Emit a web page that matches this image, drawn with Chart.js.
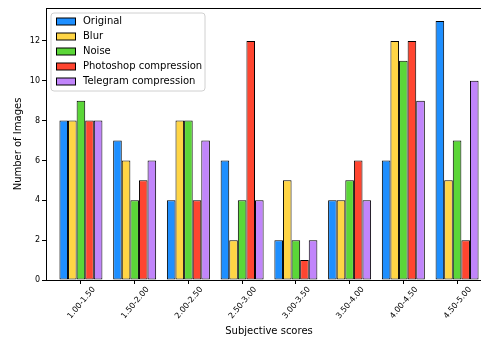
<!DOCTYPE html>
<html>
<head>
<meta charset="utf-8">
<script src="https://cdn.jsdelivr.net/npm/chart.js@4/dist/chart.umd.min.js"></script>
<style>
  html, body { margin: 0; padding: 0; background: #fff; overflow: hidden; }
  #wrap { width: 500px; height: 338px; }
</style>
</head>
<body>
<div id="wrap"><canvas id="c" width="500" height="338"></canvas></div>
<script>
// Score bins on the x axis
const scoreBins = ['1.00-1.50', '1.50-2.00', '2.00-2.50', '2.50-3.00', '3.00-3.50', '3.50-4.00', '4.00-4.50', '4.50-5.00'];

// Number of images per bin for each version
const original  = [8, 7, 4, 6, 2, 4, 6, 13];
const blur      = [8, 6, 8, 2, 5, 4, 12, 5];
const noise     = [9, 4, 8, 4, 2, 5, 11, 7];
const photoshop = [8, 5, 4, 12, 1, 6, 12, 2];
const telegram  = [8, 6, 7, 4, 2, 4, 9, 10];

const yTicks = [0, 2, 4, 6, 8, 10, 12];

const seriesNames  = ['Original', 'Blur', 'Noise', 'Photoshop compression', 'Telegram compression'];
const seriesValues = [original, blur, noise, photoshop, telegram];
const seriesColors = ['#1e8fff', '#ffd545', '#5bd638', '#ff4530', '#c185fb'];

const FONT = 'DejaVu Sans';

const datasets = seriesNames.map((name, i) => ({
  label: name,
  data: seriesValues[i].map((v, j) => ({ x: j, y: v })),
  backgroundColor: seriesColors[i],
  borderColor: '#000',
  borderWidth: 1,
  borderSkipped: false,
  categoryPercentage: 0.8,
  barPercentage: 1.0
}));

// Frame around the plotting area and a boxed legend in its upper-left corner
const framePlugin = {
  id: 'frame',
  afterDatasetsDraw(chart) {
    const { ctx, chartArea: a } = chart;
    ctx.save();
    ctx.strokeStyle = '#000';
    ctx.lineWidth = 1;
    ctx.strokeRect(Math.round(a.left) + 0.5, Math.round(a.top) + 0.5,
                   Math.round(a.right - a.left), Math.round(a.bottom - a.top));

    // legend
    const x0 = a.left + 5, y0 = a.top + 5, w = 154, h = 78, r = 3;
    ctx.beginPath();
    ctx.moveTo(x0 + r, y0);
    ctx.arcTo(x0 + w, y0, x0 + w, y0 + h, r);
    ctx.arcTo(x0 + w, y0 + h, x0, y0 + h, r);
    ctx.arcTo(x0, y0 + h, x0, y0, r);
    ctx.arcTo(x0, y0, x0 + w, y0, r);
    ctx.closePath();
    ctx.fillStyle = 'rgba(255,255,255,0.8)';
    ctx.fill();
    ctx.strokeStyle = '#d0d0d0';
    ctx.stroke();

    ctx.font = '10px "' + FONT + '"';
    ctx.textBaseline = 'middle';
    ctx.textAlign = 'left';
    chart.data.datasets.forEach((ds, i) => {
      const cy = y0 + 8.5 + i * 15;
      ctx.fillStyle = ds.backgroundColor;
      ctx.fillRect(x0 + 5, cy - 3.5, 19, 7);
      ctx.strokeStyle = '#000';
      ctx.strokeRect(x0 + 5.5, cy - 3.5, 19, 7);
      ctx.fillStyle = '#000';
      ctx.fillText(ds.label, x0 + 32, cy);
    });
    ctx.restore();
  }
};

new Chart(document.getElementById('c'), {
  type: 'bar',
  data: { datasets },
  options: {
    responsive: false,
    animation: false,
    layout: { padding: { left: 0, top: 8, right: 8, bottom: 0 } },
    plugins: { legend: { display: false }, tooltip: { enabled: false } },
    scales: {
      x: {
        type: 'linear',
        min: -0.65,
        max: 7.65,
        offset: false,
        afterBuildTicks(scale) { scale.ticks = scoreBins.map((_, i) => ({ value: i })); },
        afterFit(scale) { scale.height = 58; },
        grid: { offset: false, drawOnChartArea: false, color: '#000', tickLength: 4, tickWidth: 1 },
        border: { display: true, color: '#000' },
        ticks: {
          autoSkip: false,
          minRotation: 50,
          maxRotation: 50,
          labelOffset: 13,
          padding: 1,
          color: '#000',
          font: { family: FONT, size: 8 },
          callback: (v) => scoreBins[v] ?? ''
        },
        title: {
          display: true,
          text: 'Subjective scores',
          color: '#000',
          font: { family: FONT, size: 10 },
          padding: { top: 0, bottom: 1 }
        }
      },
      y: {
        min: 0,
        max: 13.65,
        afterBuildTicks(scale) { scale.ticks = yTicks.map(v => ({ value: v })); },
        afterFit(scale) { scale.width = 46; },
        grid: { drawOnChartArea: false, color: '#000', tickLength: 4, tickWidth: 1 },
        border: { display: true, color: '#000' },
        ticks: {
          padding: 2,
          color: '#000',
          font: { family: FONT, size: 8 }
        },
        title: {
          display: true,
          text: 'Number of Images',
          color: '#000',
          font: { family: FONT, size: 10 },
          padding: { top: 12, bottom: 0 }
        }
      }
    }
  },
  plugins: [framePlugin]
});
</script>
</body>
</html>
